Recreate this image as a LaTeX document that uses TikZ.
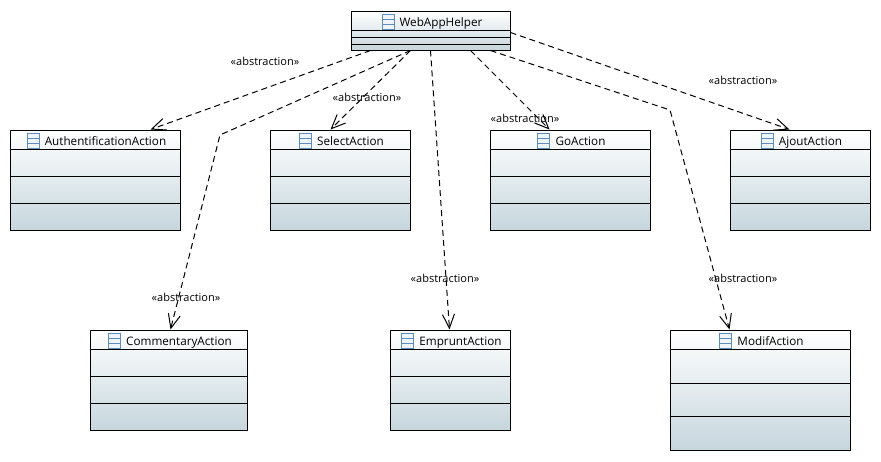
\documentclass[tikz,border=0pt]{standalone}
\usepackage{fontspec}
\setmainfont{Open Sans}
\usetikzlibrary{arrows.meta}
\definecolor{iconblue}{HTML}{5B8DC0}
\definecolor{boxlow}{HTML}{C6D6DD}
\tikzset{
  umlbox/.style={draw=black,line width=1pt,top color=white,bottom color=boxlow,inner sep=0pt,minimum width=#1},
  umltitle/.style={font=\fontsize{11.7}{13}\selectfont,text=black,inner sep=0pt,anchor=base},
  umlicon/.style={draw=iconblue,fill=white!90!iconblue,line width=.9pt,inner sep=0pt,minimum width=12pt,minimum height=15pt,
    path picture={\draw[iconblue,line width=.9pt]
      ([yshift=5pt]path picture bounding box.south west) -- ([yshift=5pt]path picture bounding box.south east)
      ([yshift=10pt]path picture bounding box.south west) -- ([yshift=10pt]path picture bounding box.south east);}},
  sepline/.style={draw=black,line width=1pt},
  dep/.style={dashed,dash pattern=on 6pt off 4pt,line width=1pt,-{Straight Barb[length=14pt,width=12pt,line width=1pt]}},
  stereo/.style={font=\fontsize{11}{13}\selectfont,text=black,inner sep=0pt}
}
% name, x1, x2, top, bottom, line1, line2, line3, title
\newcommand{\umlclass}[9]{%
  \pgfmathsetmacro{\mx}{(#2+#3)/2}%
  \pgfmathsetmacro{\my}{(#4+#5)/2}%
  \pgfmathsetmacro{\mw}{#3-#2}%
  \pgfmathsetmacro{\mh}{#5-#4}%
  \node[umlbox=\mw pt,minimum height=\mh pt] (#1) at (\mx,\my) {};
  \draw[sepline] ([yshift=-#6 pt]#1.north west) -- ([yshift=-#6 pt]#1.north east);
  \draw[sepline] ([yshift=-#7 pt]#1.north west) -- ([yshift=-#7 pt]#1.north east);
  \draw[sepline] ([yshift=-#8 pt]#1.north west) -- ([yshift=-#8 pt]#1.north east);
  \node[umltitle] (#1-title) at ([yshift=-16.2pt,xshift=10.5pt]#1.north) {#9};
  \node[umlicon,anchor=east] (#1-icon) at ([xshift=-5pt,yshift=-11pt]#1-title.west |- #1.north) {};
}
\begin{document}
\begin{tikzpicture}[x=1pt,y=-1pt]
\useasboundingbox (0,0) rectangle (881,461);
\fill[white] (0,0) rectangle (881,461);
\umlclass{helper}{351}{510}{11}{50}{19.5}{26.5}{33.5}{WebAppHelper}
\umlclass{auth}{10}{180}{130}{230}{20}{47}{74}{AuthentificationAction}
\umlclass{select}{270}{410}{130}{230}{20}{47}{74}{SelectAction}
\umlclass{go}{490}{650}{130}{230}{20}{47}{74}{GoAction}
\umlclass{ajout}{730}{870}{130}{230}{20}{47}{74}{AjoutAction}
\umlclass{comm}{90}{247}{330}{430}{20}{47}{74}{CommentaryAction}
\umlclass{emprunt}{390}{510}{330}{430}{20}{47}{74}{EmpruntAction}
\umlclass{modif}{670}{850}{330}{450}{20}{54}{87}{ModifAction}

\coordinate (bendc) at (220,135);
\coordinate (bendm) at (670,110);
\draw[dep] ([xshift=20pt]helper.south west) -- ([xshift=-30pt]auth.north east);
\draw[dep] ([xshift=60pt]helper.south west) -- (bendc) -- ([xshift=81pt]comm.north west);
\draw[dep] ([xshift=60pt]helper.south west) -- ([xshift=61pt]select.north west);
\draw[dep] ([xshift=80pt]helper.south west) -- ([xshift=60pt]emprunt.north west);
\draw[dep] ([xshift=120pt]helper.south west) -- ([xshift=60pt]go.north west);
\draw[dep] ([xshift=140pt]helper.south west) -- (bendm) -- ([xshift=60pt]modif.north west);
\draw[dep] ([yshift=18pt]helper.south east) -- ([xshift=60pt]ajout.north west);

\node[stereo] (l1) at (265,61) {«abstraction»};
\node[stereo] (l2) at (367,97) {«abstraction»};
\node[stereo] (l3) at (525,118) {«abstraction»};
\node[stereo] (l4) at (743,80) {«abstraction»};
\node[stereo] (l5) at (186,297) {«abstraction»};
\node[stereo] (l6) at (445,278) {«abstraction»};
\node[stereo] (l7) at (743,278) {«abstraction»};
\end{tikzpicture}
\end{document}
